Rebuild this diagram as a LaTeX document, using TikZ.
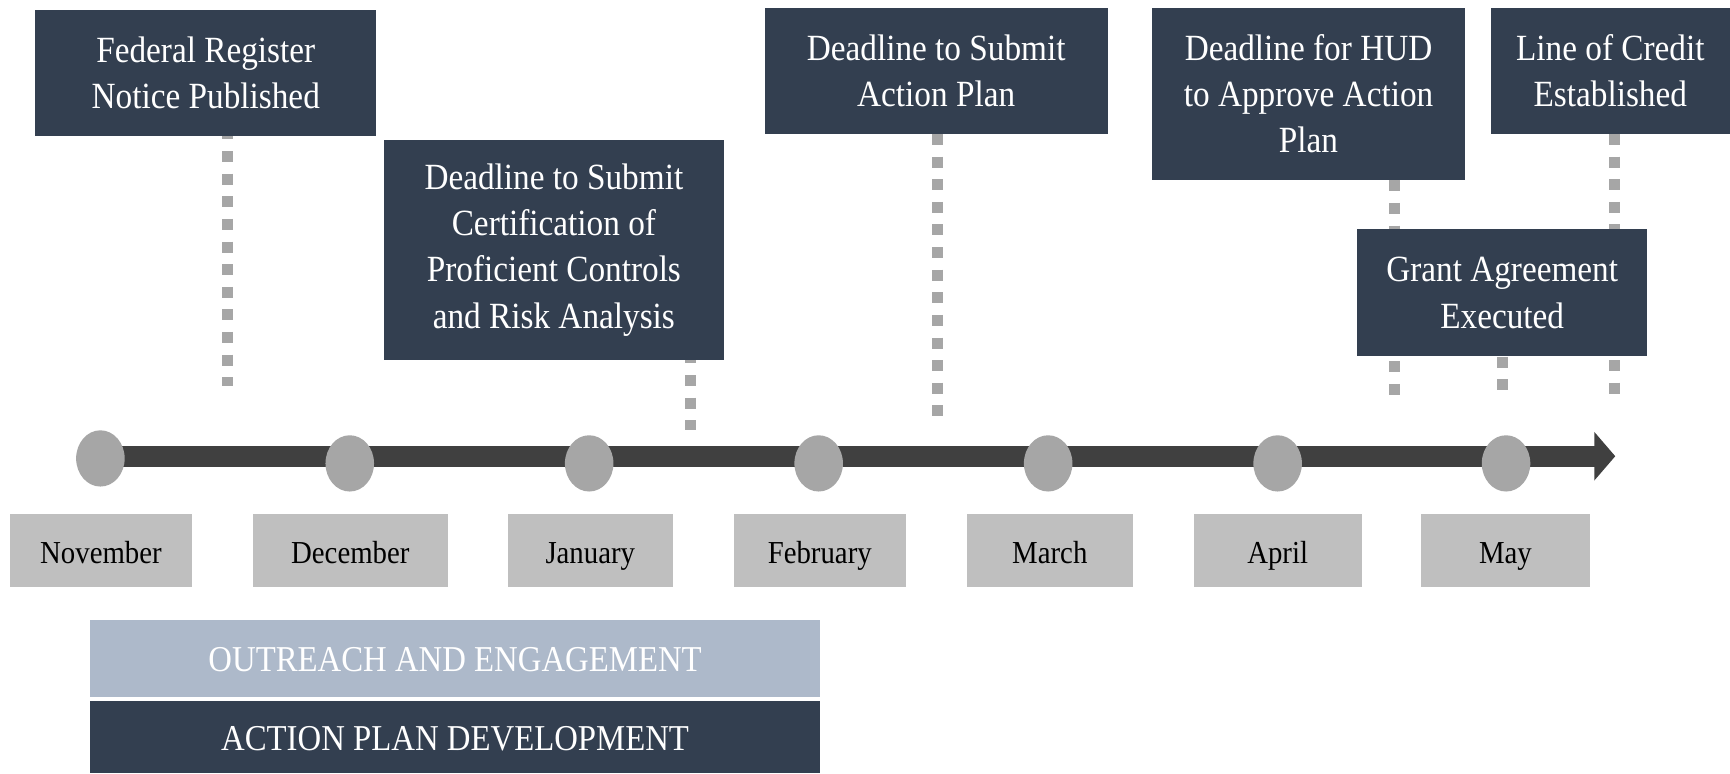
\documentclass[tikz,border=0pt]{standalone}
\usepackage{fontspec}
\setmainfont{Liberation Serif}[FakeStretch=0.9]
\usetikzlibrary{arrows.meta,shapes.geometric}
\definecolor{navy}{HTML}{333F50}
\definecolor{dotgray}{HTML}{A6A6A6}
\definecolor{bargray}{HTML}{404040}
\definecolor{monthgray}{HTML}{BFBFBF}
\definecolor{paleblue}{HTML}{ADB9CA}
\begin{document}
\begin{tikzpicture}[x=0.5pt,y=-0.5pt,
  evbox/.style={fill=navy, text=white, align=center, inner sep=0pt, font=\fontsize{16.75}{21}\selectfont},
  monthbox/.style={fill=monthgray, text=black, inner sep=0pt, minimum height=33pt, text height=12pt, text depth=0.5pt, font=\fontsize{14.5}{17}\selectfont},
  mdot/.style={ellipse, fill=dotgray, inner sep=0pt, minimum width=22pt, minimum height=25.5pt},
  phase/.style={inner sep=0pt, minimum width=330.5pt, text=white, text height=12.5pt, text depth=0.5pt, font=\fontsize{16.5}{20}\selectfont},
  leader/.style={draw=dotgray, line width=5pt, dash pattern=on 5pt off 5.25pt},
  timebar/.style={draw=bargray, line width=9.5pt, -{Triangle[length=9.5pt, width=21.5pt]}}
]
\useasboundingbox (0,0) rectangle (1568,701);
\fill[white] (0,0) rectangle (1568,701);

% event boxes
\node[evbox, minimum width=154.5pt, minimum height=57pt] (fed) at (186.5,66) {Federal Register\\Notice Published};
\node[evbox, minimum width=154pt, minimum height=99.5pt] (cert) at (502,226.5) {Deadline to Submit\\Certification of\\Proficient Controls\\and Risk Analysis};
\node[evbox, minimum width=155.5pt, minimum height=57pt] (act) at (848.5,64) {Deadline to Submit\\Action Plan};
\node[evbox, minimum width=142pt, minimum height=78pt] (hud) at (1186,85) {Deadline for HUD\\to Approve Action\\Plan};
\node[evbox, minimum width=108.5pt, minimum height=57pt] (cred) at (1459.5,64) {Line of Credit\\Established};

% leader end points
\coordinate (fedend) at (206,350);
\coordinate (certend) at (626,390);
\coordinate (actend) at (850,378);
\coordinate (hudend) at (1264,363);
\coordinate (credend) at (1463,358);
\coordinate (grantend) at (1362,358);

\draw[leader, dash phase=3.5pt] (fed.south -| fedend) -- (fedend);
\draw[leader, dash phase=3.5pt] (cert.south -| certend) -- (certend);
\draw[leader] (act.south -| actend) -- (actend);
\draw[leader] (hud.south -| hudend) -- (hudend);
\draw[leader] (cred.south -| credend) -- (credend);

\node[evbox, minimum width=131.5pt, minimum height=57.5pt] (grant) at (1361.5,265.5) {Grant Agreement\\Executed};
\draw[leader] (grant.south -| grantend) -- (grantend);

% timeline
\coordinate (tstart) at (91,413.5);
\coordinate (tend) at (1464,413.5);
\draw[timebar] (tstart) -- (tend);

\node[mdot] (d1) at (91,415.5) {};
\node[mdot] (d2) at (317,420) {};
\node[mdot] (d3) at (534,420) {};
\node[mdot] (d4) at (742,420) {};
\node[mdot] (d5) at (950,420) {};
\node[mdot] (d6) at (1158,420) {};
\node[mdot] (d7) at (1365,420) {};

% months
\node[monthbox, minimum width=82.5pt] (nov) at (91.5,499) {November};
\node[monthbox, minimum width=88.5pt] (dec) at (317.5,499) {December};
\node[monthbox, minimum width=75pt] (jan) at (535,499) {January};
\node[monthbox, minimum width=78pt] (feb) at (743,499) {February};
\node[monthbox, minimum width=75.5pt] (mar) at (951.5,499) {March};
\node[monthbox, minimum width=76pt] (apr) at (1158,499) {April};
\node[monthbox, minimum width=76.5pt] (may) at (1364.5,499) {May};

% phases
\node[phase, fill=paleblue, minimum height=35pt] (outreach) at (412.5,597) {OUTREACH AND ENGAGEMENT};
\node[phase, fill=navy, minimum height=33pt] (dev) at (412.5,668) {ACTION PLAN DEVELOPMENT};
\end{tikzpicture}
\end{document}
